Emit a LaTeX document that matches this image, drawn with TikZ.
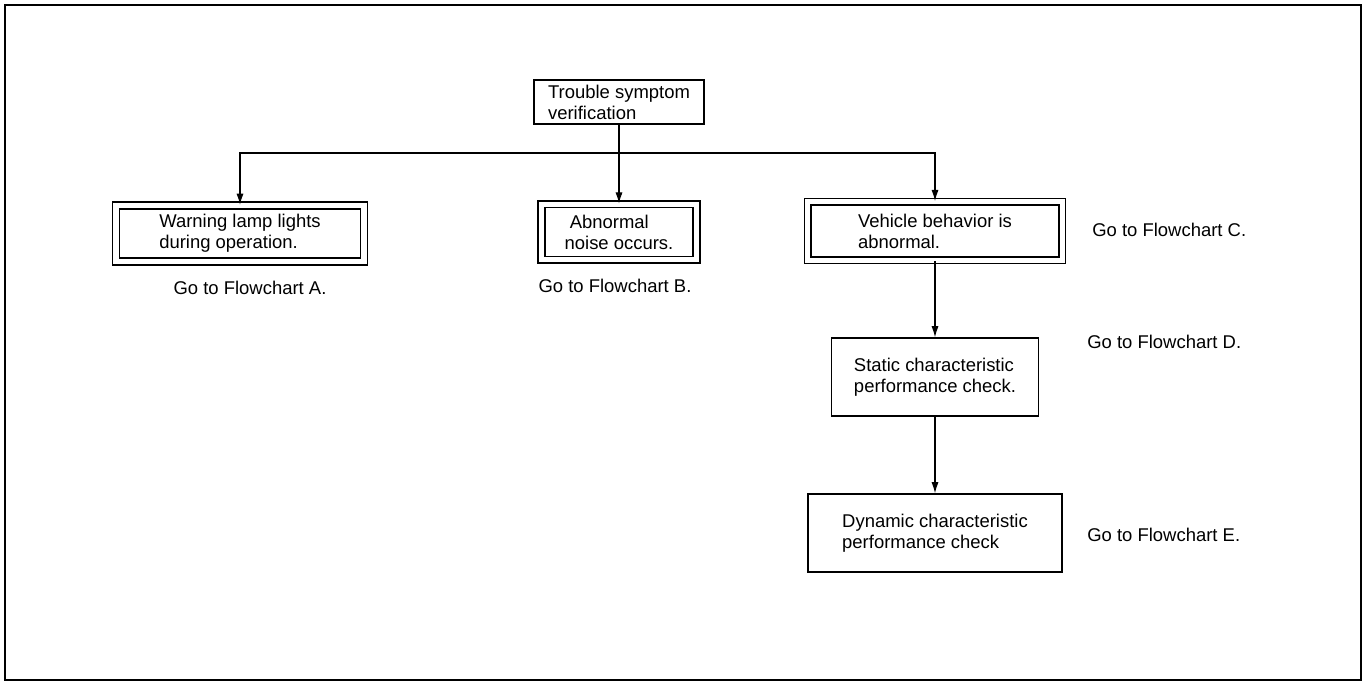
\documentclass[tikz,border=0pt]{standalone}
\usepackage{fontspec}
\setmainfont{Liberation Sans}
\usepackage{tikz}
\usetikzlibrary{positioning,arrows.meta}

\begin{document}
\begin{tikzpicture}[font=\fontsize{10.5}{12}\selectfont,
  box/.style={rectangle,draw=black,line width=0.9pt,align=left,inner sep=0pt},
  dbox/.style={box,double,double distance=3pt},
  gotxt/.style={inner sep=0pt},
  ar/.style={-{Latex[length=2.2mm,width=1.4mm]},line width=0.6pt}]
\useasboundingbox (0,0) rectangle (27.26,-13.66);
\draw[line width=1.1pt] (0.10,-0.10) rectangle (27.22,-13.60);
% start
\node[box,minimum width=3.40cm,minimum height=0.88cm] (tsv) at (12.38,-2.04) {Trouble symptom\\verification};
\coordinate (jn) at (12.38,-3.06);
% symptom boxes
\node[dbox,minimum width=4.96cm,minimum height=1.12cm] (wl) at (4.80,-4.67) {Warning lamp lights\\during operation.};
\node[dbox,minimum width=3.10cm,minimum height=1.11cm] (an) at (12.38,-4.64) {\;Abnormal\\noise occurs.};
\node[dbox,minimum width=5.09cm,minimum height=1.17cm] (vb) at (18.70,-4.62) {Vehicle behavior is\\abnormal.};
\draw[ar] (tsv) -- (an);
\draw[ar] (jn) -| (wl);
\draw[ar] (jn) -| (vb);
\node[gotxt] (goA) at (5.00,-5.76) {Go to Flowchart A.};
\node[gotxt] (goB) at (12.30,-5.72) {Go to Flowchart B.};
\node[gotxt,anchor=west] (goC) at (21.84,-4.60) {Go to Flowchart C.};
% behavior checks
\node[box,minimum width=4.14cm,minimum height=1.56cm] (sc) at (18.70,-7.54) {Static characteristic\\performance check.};
\node[box,minimum width=5.08cm,minimum height=1.56cm] (dc) at (18.70,-10.66) {Dynamic characteristic\\performance check};
\draw[ar] (vb) -- (sc);
\draw[ar] (sc) -- (dc);
\node[gotxt,anchor=west] (goD) at (21.74,-6.84) {Go to Flowchart D.};
\node[gotxt,anchor=west] (goE) at (21.74,-10.70) {Go to Flowchart E.};
\end{tikzpicture}
\end{document}
